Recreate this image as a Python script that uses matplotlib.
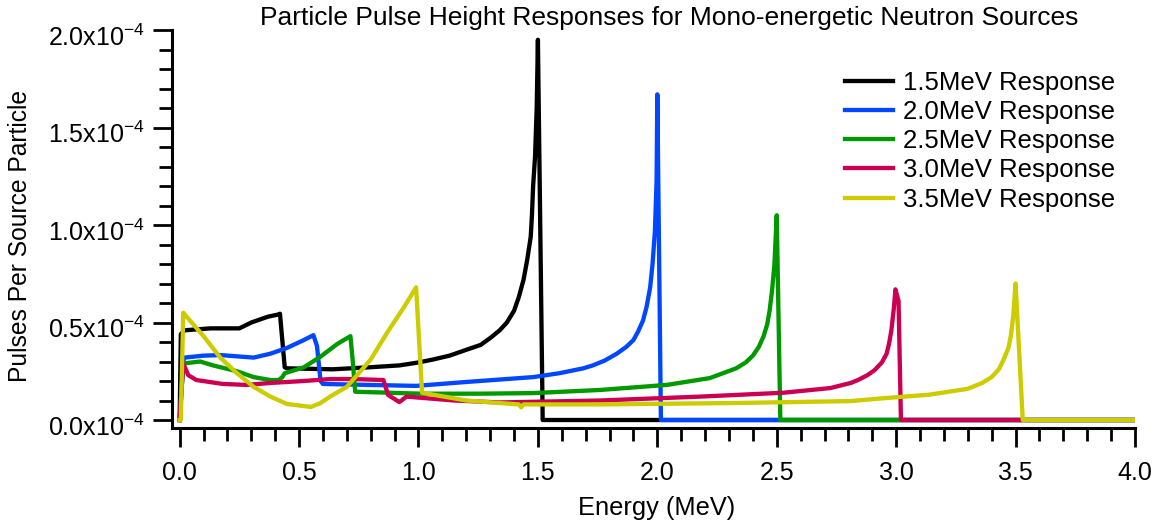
import matplotlib.pyplot as plt
from matplotlib.ticker import MultipleLocator, FuncFormatter
from matplotlib.transforms import ScaledTranslation

# responses in units of 1e-4 pulses per source particle
energy_15 = [0, 0.005, 0.02, 0.13, 0.25, 0.30, 0.37, 0.41, 0.42, 0.44, 0.45, 0.64, 0.79, 0.92, 1.0,
             1.06, 1.13, 1.20, 1.26, 1.30, 1.34, 1.37, 1.40, 1.42, 1.44, 1.455, 1.47, 1.475, 1.48,
             1.488, 1.495, 1.50, 1.52, 4.0]
resp_15 = [0, 0.44, 0.46, 0.47, 0.47, 0.50, 0.53, 0.54, 0.545, 0.27, 0.265, 0.26, 0.27, 0.28, 0.295,
           0.31, 0.33, 0.36, 0.385, 0.42, 0.46, 0.50, 0.56, 0.63, 0.72, 0.82, 0.94, 1.05, 1.20,
           1.35, 1.60, 1.95, 0, 0]

energy_20 = [0, 0.015, 0.02, 0.10, 0.17, 0.31, 0.38, 0.45, 0.52, 0.56, 0.575, 0.59, 0.60, 0.79, 0.99,
             1.2, 1.48, 1.59, 1.69, 1.73, 1.78, 1.83, 1.87, 1.90, 1.92, 1.94, 1.955, 1.97, 1.98, 1.99,
             1.997, 2.0, 2.015, 4.0]
resp_20 = [0, 0.30, 0.32, 0.33, 0.333, 0.32, 0.34, 0.37, 0.41, 0.435, 0.38, 0.20, 0.185, 0.18, 0.175,
           0.195, 0.22, 0.24, 0.265, 0.28, 0.305, 0.34, 0.375, 0.41, 0.455, 0.51, 0.58, 0.68, 0.80, 0.97,
           1.23, 1.67, 0, 0]

energy_25 = [0, 0.015, 0.086, 0.14, 0.24, 0.31, 0.38, 0.415, 0.43, 0.44, 0.52, 0.59, 0.66, 0.715,
             0.725, 0.735, 0.87, 1.01, 1.26, 1.48, 1.76, 2.04, 2.22, 2.33, 2.37, 2.40, 2.425, 2.445,
             2.46, 2.47, 2.48, 2.49, 2.50, 2.515, 4.0]
resp_25 = [0, 0.29, 0.30, 0.28, 0.25, 0.22, 0.205, 0.205, 0.22, 0.24, 0.27, 0.325, 0.39, 0.43,
           0.30, 0.145, 0.14, 0.135, 0.135, 0.138, 0.154, 0.18, 0.215, 0.265, 0.295, 0.33, 0.375, 0.43,
           0.49, 0.56, 0.66, 0.79, 1.05, 0, 0]

energy_30 = [0, 0.015, 0.036, 0.07, 0.18, 0.28, 0.38, 0.52, 0.63, 0.73, 0.853, 0.873, 0.92, 0.95,
             1.0, 1.15, 1.34, 1.76, 2.18, 2.53, 2.725, 2.81, 2.84, 2.88, 2.91, 2.94, 2.96, 2.97, 2.98,
             2.99, 2.997, 3.01, 3.02, 4.0]
resp_30 = [0, 0.29, 0.23, 0.205, 0.185, 0.18, 0.19, 0.20, 0.21, 0.21, 0.205, 0.128, 0.092, 0.12,
           0.115, 0.10, 0.09, 0.10, 0.12, 0.14, 0.164, 0.19, 0.205, 0.23, 0.256, 0.295, 0.34, 0.39, 0.46,
           0.57, 0.67, 0.61, 0, 0]

energy_35 = [0, 0.005, 0.015, 0.10, 0.17, 0.24, 0.31, 0.38, 0.45, 0.55, 0.59, 0.63, 0.70, 0.80,
             0.87, 0.94, 0.99, 1.015, 1.06, 1.2, 1.34, 1.42, 1.43, 1.44, 1.76, 2.32, 2.81, 2.93,
             3.14, 3.30, 3.36, 3.40, 3.43, 3.45, 3.47, 3.48, 3.49, 3.50, 3.53, 4.0]
resp_35 = [0, 0, 0.55, 0.43, 0.32, 0.24, 0.17, 0.12, 0.082, 0.067, 0.087, 0.12, 0.17, 0.31,
           0.45, 0.58, 0.68, 0.14, 0.13, 0.10, 0.087, 0.08, 0.065, 0.08, 0.08, 0.087, 0.097, 0.11,
           0.13, 0.16, 0.19, 0.22, 0.26, 0.31, 0.37, 0.43, 0.53, 0.70, 0, 0]

labels = ['1.5MeV Response', '2.0MeV Response', '2.5MeV Response', '3.0MeV Response', '3.5MeV Response']
colours = ['#000000', '#0047ff', '#009a00', '#cc0052', '#cccc00']

if __name__ == '__main__':
    plt.rcParams['font.family'] = ['Liberation Sans', 'DejaVu Sans']
    plt.rcParams['mathtext.default'] = 'regular'

    fig = plt.figure(figsize=(11.65, 5.22), dpi=100)
    # axes spans the offset spines: x from 172px to 1135px, y from 30px to 428px
    ax = fig.add_axes([172 / 1165, 1 - 428 / 522, (1135 - 172) / 1165, (428 - 30) / 522])

    series = [(energy_15, resp_15), (energy_20, resp_20), (energy_25, resp_25),
              (energy_30, resp_30), (energy_35, resp_35)]
    for (e, r), label, colour in zip(series, labels, colours):
        ax.plot(e, r, color=colour, lw=3.1, label=label)

    ax.set_xlim(-0.032, 4.0)
    ax.set_ylim(-0.041, 2.0)
    ax.spines['top'].set_visible(False)
    ax.spines['right'].set_visible(False)
    for side in ['left', 'bottom']:
        ax.spines[side].set_linewidth(2.2)

    ax.xaxis.set_major_locator(MultipleLocator(0.5))
    ax.xaxis.set_minor_locator(MultipleLocator(0.1))
    ax.yaxis.set_major_locator(MultipleLocator(0.5))
    ax.yaxis.set_minor_locator(MultipleLocator(0.1))
    ax.xaxis.set_major_formatter(FuncFormatter(lambda v, pos: '%.1f' % v))
    ax.yaxis.set_major_formatter(FuncFormatter(lambda v, pos: '%.1fx10$^{-4}$' % v))
    ax.tick_params(which='major', direction='out', length=13.5, width=2, labelsize=18)
    ax.tick_params(which='minor', direction='out', length=9.5, width=2)
    ax.tick_params(axis='x', which='major', pad=10)
    ax.tick_params(axis='y', which='major', pad=6)

    # y labels sit a little below their ticks in the original
    shift = ScaledTranslation(0, -5 / 100, fig.dpi_scale_trans)
    for lbl in ax.get_yticklabels():
        lbl.set_transform(lbl.get_transform() + shift)

    fig.text(669 / 1165, 1 - 18 / 522, 'Particle Pulse Height Responses for Mono-energetic Neutron Sources',
             ha='center', va='center', fontsize=19)
    fig.text(657 / 1165, 1 - 508 / 522, 'Energy (MeV)', ha='center', va='center', fontsize=18.3)
    fig.text(20 / 1165, 1 - 236 / 522, 'Pulses Per Source Particle', ha='center', va='center',
             rotation=90, fontsize=17.7)

    ax.legend(loc='upper left', bbox_to_anchor=(845 / 1165, 1 - 71 / 522), bbox_transform=fig.transFigure,
              frameon=False, borderpad=0, borderaxespad=0, handlelength=1.85, handletextpad=0.42,
              labelspacing=0.2, fontsize=18.5)

    fig.savefig('out.png', dpi=100)
